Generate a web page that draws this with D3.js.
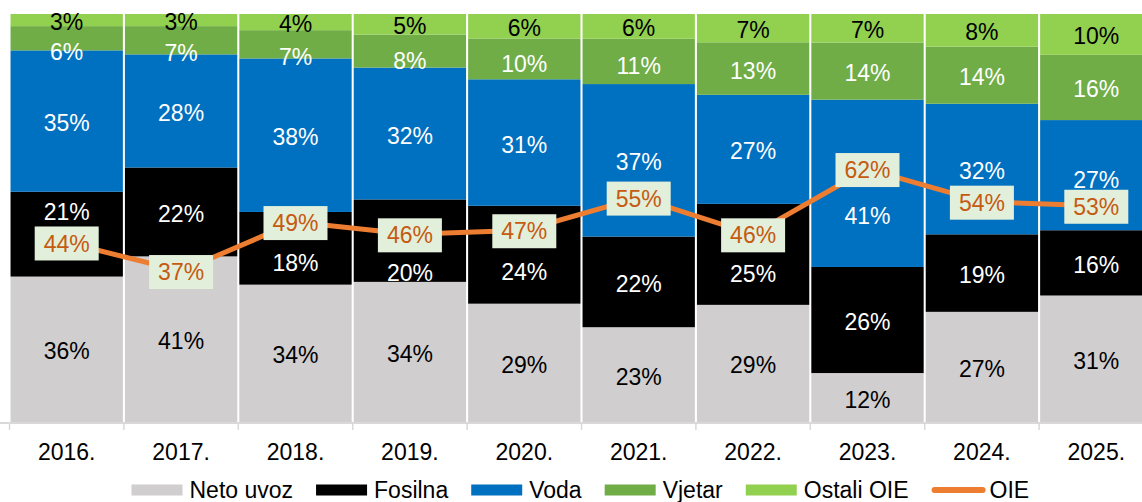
<!DOCTYPE html>
<html>
<head>
<meta charset="utf-8">
<script src="https://cdn.jsdelivr.net/npm/d3@7"></script>
<style>
  body { margin: 0; background: #fff; }
  svg text { font-family: "Liberation Sans", Arial, sans-serif; }
</style>
</head>
<body>
<svg id="canvas" width="1142" height="502"></svg>
<script>
let years = ["2016.", "2017.", "2018.", "2019.", "2020.", "2021.", "2022.", "2023.", "2024.", "2025."]

let netoUvoz = [36, 41, 34, 34, 29, 23, 29, 12, 27, 31]
let fosilna = [21, 22, 18, 20, 24, 22, 25, 26, 19, 16]
let voda = [35, 28, 38, 32, 31, 37, 27, 41, 32, 27]
let vjetar = [6, 7, 7, 8, 10, 11, 13, 14, 14, 16]
let ostaliOIE = [3, 3, 4, 5, 6, 6, 7, 7, 8, 10]
let oie = [44, 37, 49, 46, 47, 55, 46, 62, 54, 53]

let seriesNames = ["Neto uvoz", "Fosilna", "Voda", "Vjetar", "Ostali OIE"]
let seriesKeys = ["netoUvoz", "fosilna", "voda", "vjetar", "ostaliOIE"]
let seriesColors = ["#d0cece", "#000000", "#0070c0", "#70ad47", "#92d050"]
let labelColors = ["#000000", "#ffffff", "#ffffff", "#ffffff", "#000000"]

// hand-moved labels in the original (px, down is positive)
let labelNudge = {
  "vjetar|2016.": 12, "fosilna|2016.": -24,
  "vjetar|2017.": 11,
  "vjetar|2018.": 11, "fosilna|2018.": 13,
  "vjetar|2019.": 8, "fosilna|2019.": 30,
  "vjetar|2020.": 3, "fosilna|2020.": 15,
  "vjetar|2021.": 3,
  "fosilna|2022.": 18,
  "voda|2023.": 31,
  "voda|2025.": 3
}

let rows = years.map((y, i) => ({
  year: y,
  netoUvoz: netoUvoz[i],
  fosilna: fosilna[i],
  voda: voda[i],
  vjetar: vjetar[i],
  ostaliOIE: ostaliOIE[i],
  oie: oie[i]
}))

let canvas = d3.select('#canvas')

let x = d3.scaleBand()
  .domain(years)
  .range([9.5, 1153.5])
  .paddingInner(0.018)
  .paddingOuter(0.009)

let y = d3.scaleLinear().domain([0, 1]).range([422, 14])
let yPct = d3.scaleLinear().domain([0, 100]).range([422, 14])

let stack = d3.stack().keys(seriesKeys).offset(d3.stackOffsetExpand)
let stacked = stack(rows)

let drawChart = () => {
  let layers = canvas.append('g')
    .selectAll('g')
    .data(stacked)
    .enter()
    .append('g')
    .attr('fill', (d, i) => seriesColors[i])

  layers.selectAll('rect')
    .data(d => d)
    .enter()
    .append('rect')
    .attr('x', d => x(d.data.year))
    .attr('width', x.bandwidth())
    .attr('y', d => y(d[1]))
    .attr('height', d => y(d[0]) - y(d[1]))

  // axis line + ticks at band edges
  let step = x.step()
  let edges = years.map(yr => x(yr) - step * x.paddingInner() / 2)
  edges.push(edges[edges.length - 1] + step)

  canvas.append('line')
    .attr('x1', 0).attr('x2', 1142)
    .attr('y1', 423).attr('y2', 423)
    .attr('stroke', '#d9d9d9')
    .attr('stroke-width', 2)

  canvas.append('g')
    .selectAll('line')
    .data(edges)
    .enter()
    .append('line')
    .attr('x1', d => d).attr('x2', d => d)
    .attr('y1', 422).attr('y2', 430)
    .attr('stroke', '#d9d9d9')
    .attr('stroke-width', 1.5)

  let axis = canvas.append('g')
    .attr('transform', 'translate(0,' + 441 + ')')
    .call(d3.axisBottom(x).tickSize(0).tickPadding(0))
  axis.select('.domain').remove()
  axis.selectAll('text')
    .attr('font-size', 23)
    .attr('fill', '#000')
    .attr('dy', '0.35em')
    .attr('y', 11)

  // segment labels
  stacked.forEach((layer, si) => {
    canvas.append('g')
      .selectAll('text')
      .data(layer)
      .enter()
      .append('text')
      .attr('x', d => x(d.data.year) + x.bandwidth() / 2)
      .attr('y', d => {
        let mid = (y(d[0]) + y(d[1])) / 2
        let nudge = labelNudge[layer.key + '|' + d.data.year] || 0
        return mid + 2 + nudge
      })
      .attr('dy', '0.35em')
      .attr('text-anchor', 'middle')
      .attr('font-size', 23)
      .attr('fill', labelColors[si])
      .text(d => d.data[layer.key] + '%')
  })

  // OIE line
  let line = d3.line()
    .x(d => x(d.year) + x.bandwidth() / 2)
    .y(d => yPct(d.oie))

  canvas.append('path')
    .datum(rows)
    .attr('d', line)
    .attr('fill', 'none')
    .attr('stroke', '#ed7d31')
    .attr('stroke-width', 5)
    .attr('stroke-linejoin', 'round')

  let boxes = canvas.append('g')
    .selectAll('g')
    .data(rows)
    .enter()
    .append('g')
    .attr('transform', d => 'translate(' + (x(d.year) + x.bandwidth() / 2) + ',' + (yPct(d.oie) + 1) + ')')

  boxes.append('rect')
    .attr('x', -32).attr('y', -17)
    .attr('width', 64).attr('height', 34)
    .attr('fill', '#e2efda')

  boxes.append('text')
    .attr('text-anchor', 'middle')
    .attr('dy', '0.35em')
    .attr('font-size', 23)
    .attr('fill', '#c55a11')
    .text(d => d.oie + '%')
}

let drawLegend = () => {
  let legend = canvas.append('g').attr('class', 'legend')
  let items = seriesNames.map((n, i) => ({ name: n, color: seriesColors[i], type: 'rect' }))
  items.push({ name: 'OIE', color: '#ed7d31', type: 'line' })

  let cx = 131.5
  let cy = 490
  items.forEach(it => {
    if (it.type === 'rect') {
      legend.append('rect')
        .attr('x', cx).attr('y', cy - 5.5)
        .attr('width', 51).attr('height', 11)
        .attr('fill', it.color)
    } else {
      legend.append('line')
        .attr('x1', cx + 3).attr('x2', cx + 51)
        .attr('y1', cy).attr('y2', cy)
        .attr('stroke', it.color)
        .attr('stroke-width', 6)
        .attr('stroke-linecap', 'round')
    }
    let t = legend.append('text')
      .attr('x', cx + 58)
      .attr('y', cy)
      .attr('dy', '0.35em')
      .attr('font-size', 23)
      .attr('fill', '#000')
      .text(it.name)
    cx = cx + 58 + t.node().getComputedTextLength() + 23
  })
}

drawChart()
drawLegend()
</script>
</body>
</html>
